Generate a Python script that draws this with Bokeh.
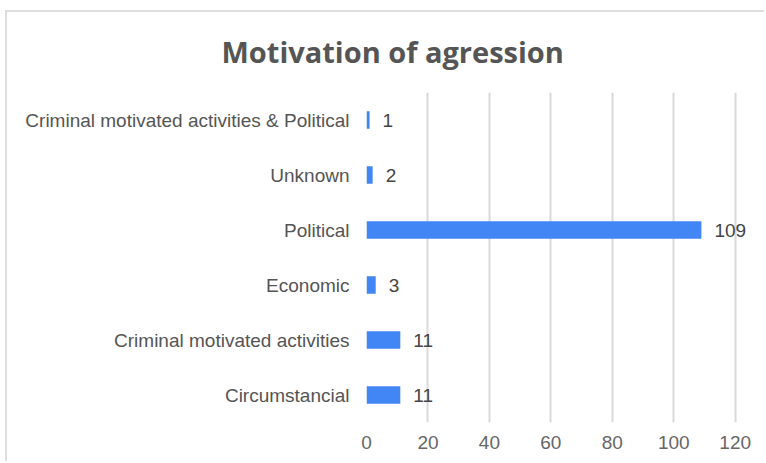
from bokeh.plotting import figure
from bokeh.models import ColumnDataSource, FactorRange, Range1d, FixedTicker, LabelSet, Title
from bokeh.core.properties import value
from bokeh.embed import file_html
from bokeh.resources import INLINE

title_text = "Motivation of agression"
categories = ["Circumstancial", "Criminal motivated activities", "Economic",
              "Political", "Unknown", "Criminal motivated activities & Political"]
counts = [11, 11, 3, 109, 2, 1]
x_ticks = [0, 20, 40, 60, 80, 100, 120]

src = ColumnDataSource(dict(cat=categories, val=counts, lab=[str(v) for v in counts]))

W, H = 759, 451
FL, FT, FW, FH = 359, 75, 381, 335
p = figure(width=W, height=H, output_backend="svg", toolbar_location=None,
           y_range=FactorRange(factors=categories, range_padding=0),
           x_range=Range1d(0, 124),
           margin=(10, 0, 0, 5))
p.styles = {"border-top": "2px solid #dedede", "border-left": "2px solid #dedede"}
p.min_border_left = FL
p.min_border_right = W - FL - FW
p.min_border_top = FT
p.min_border_bottom = H - FT - FH
p.outline_line_color = None
p.background_fill_color = "white"

p.hbar(y="cat", right="val", height=0.32, source=src, color="#4285f4", line_color=None)

labels = LabelSet(x="val", y="cat", text="lab", source=src, x_offset=13,
                  text_baseline="middle", text_align="left",
                  text_font=value("Liberation Sans"), text_font_size=value("19px"),
                  text_color="#444444")
p.add_layout(labels)

p.xaxis.ticker = FixedTicker(ticks=x_ticks)
p.xaxis.axis_line_color = None
p.xaxis.major_tick_line_color = None
p.xaxis.minor_tick_line_color = None
p.xaxis.major_label_text_font = "Liberation Sans"
p.xaxis.major_label_text_font_size = "19px"
p.xaxis.major_label_text_color = "#666666"
p.xaxis.major_label_standoff = 7

p.yaxis.axis_line_color = None
p.yaxis.major_tick_line_color = None
p.yaxis.major_label_text_font = "Liberation Sans"
p.yaxis.major_label_text_font_size = "19px"
p.yaxis.major_label_text_color = "#555555"
p.yaxis.major_label_standoff = 11

p.xgrid.grid_line_color = "#d9d9d9"
p.xgrid.grid_line_width = 2
p.ygrid.grid_line_color = None

p.title = Title(text=title_text, align="left", offset=-145,
                vertical_align="top", text_line_height=0.6,
                text_font="Open Sans", text_font_style="bold",
                text_font_size="29px", text_color="#555555", standoff=39)

open("out.html", "w").write(file_html(p, INLINE))
